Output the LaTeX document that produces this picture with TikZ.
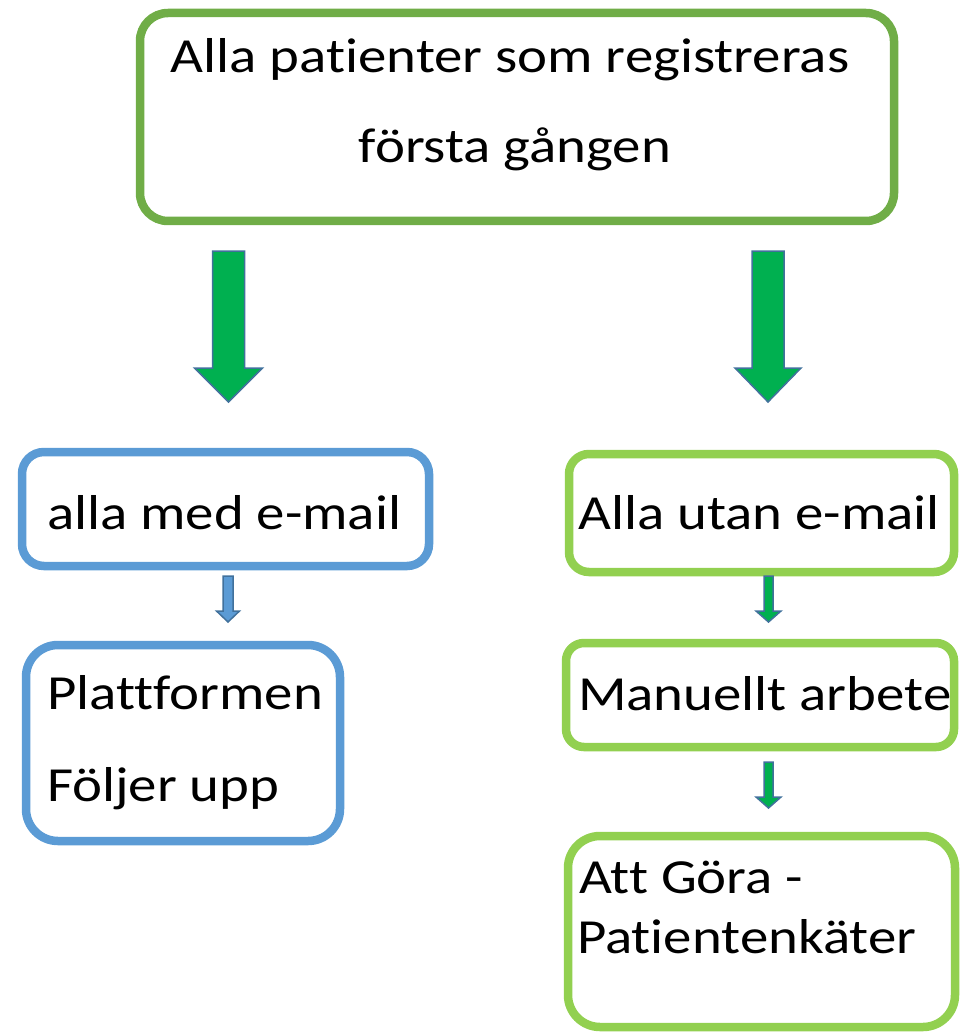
\documentclass[tikz,border=0pt]{standalone}
\usepackage{fontspec}
\setmainfont[FakeStretch=1.16,Ligatures={NoCommon,NoRare}]{Carlito}
\definecolor{topgreen}{HTML}{70AD47}
\definecolor{litegreen}{HTML}{92D050}
\definecolor{boxblue}{HTML}{5B9BD5}
\definecolor{arrgreen}{HTML}{00B050}
\definecolor{arredge}{HTML}{41719C}
% block arrow: centre x, half shaft, half head, y top, y head start, y tip, fill colour
\newcommand{\blkarrow}[7]{%
  \filldraw[fill=#7, draw=arredge, line width=1.5pt, line join=miter]
    (#1-#2,#4) -- (#1+#2,#4) -- (#1+#2,#5) -- (#1+#3,#5) -- (#1,#6)
    -- (#1-#3,#5) -- (#1-#2,#5) -- cycle;}
\begin{document}
\begin{tikzpicture}[x=1pt,y=-1pt,
  boxbase/.style={draw, fill=white, line width=8.5pt, inner sep=0pt, outer sep=0pt},
  topbox/.style={boxbase, draw=topgreen},
  bluebox/.style={boxbase, draw=boxblue},
  greenbox/.style={boxbase, draw=litegreen},
  txt/.style={inner sep=0pt, outer sep=0pt, anchor=base west, font=\fontsize{49pt}{58pt}\selectfont},
  ctxt/.style={txt, anchor=base}]
\useasboundingbox (0,0) rectangle (959,1032);

% boxes
\node[topbox, rounded corners=28pt, minimum width=754pt, minimum height=208pt] (top) at (517,117) {};
\node[bluebox, rounded corners=22pt, minimum width=407pt, minimum height=114pt] (med) at (225.5,509) {};
\node[bluebox, rounded corners=32pt, minimum width=314pt, minimum height=196pt] (platt) at (183,743) {};
\node[greenbox, rounded corners=20pt, minimum width=385pt, minimum height=118pt] (utan) at (761.5,513) {};
\node[greenbox, rounded corners=18pt, minimum width=388pt, minimum height=104pt] (manu) at (760,695) {};
\node[greenbox, rounded corners=32pt, minimum width=387pt, minimum height=191pt] (gora) at (761.5,931.5) {};

% texts
\node[ctxt] (t1) at (510,73) {Alla patienter som registreras};
\node[ctxt] (t2) at (515,163) {första gången};
\node[txt] (t3) at (47,529) {alla med e-mail};
\node[txt] (t4) at (47,709) {Plattformen};
\node[txt] (t5) at (47,801) {Följer upp};
\node[txt] (t6) at (578.5,529) {Alla utan e-mail};
\node[txt] (t7) at (578,710) {Manuellt arbete};
\node[txt] (t8) at (579.5,893) {Att Göra -};
\node[txt] (t9) at (577,953) {Patientenkäter};

% block arrows
\blkarrow{228.5}{16}{34}{251}{368}{402}{arrgreen}
\blkarrow{768}{16}{33}{251}{368}{402}{arrgreen}
\blkarrow{228}{5}{11.5}{576}{611}{622}{boxblue}
\blkarrow{768.5}{4.5}{12.5}{576}{611}{622}{arrgreen}
\blkarrow{768.5}{4.5}{12.5}{762}{797}{808}{arrgreen}
\end{tikzpicture}
\end{document}
